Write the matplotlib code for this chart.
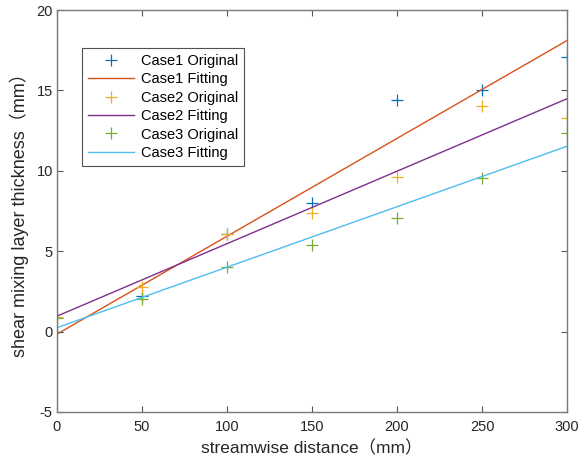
import matplotlib
matplotlib.use('Agg')
import matplotlib.pyplot as plt
import numpy as np

plt.rcParams['font.family'] = ['Liberation Sans', 'Noto Sans CJK SC', 'DejaVu Sans']
plt.rcParams['axes.unicode_minus'] = False

# streamwise positions (mm)
distance = [0, 50, 100, 150, 200, 250, 300]

# measured mixing layer thickness (mm)
case1 = [0.0, 2.2, 6.1, 8.0, 14.4, 15.0, 17.1]
case2 = [0.9, 2.8, 6.1, 7.35, 9.6, 14.0, 13.3]
case3 = [0.85, 2.0, 4.0, 5.4, 7.05, 9.55, 12.35]

cases = ['Case1', 'Case2', 'Case3']
orig_colors = ['#0072BD', '#EDB120', '#77AC30']
fit_colors = ['#D95319', '#7E2F8E', '#4DBEEE']

fig = plt.figure(figsize=(5.79, 4.61), dpi=100)
ax = fig.add_axes([0.0984, 0.1063, 0.8809, 0.872])

x = np.array(distance, dtype=float)
for name, y, oc, fc in zip(cases, [case1, case2, case3], orig_colors, fit_colors):
    ax.plot(x, y, linestyle='none', marker='+', markersize=9, markeredgewidth=0.9,
            color=oc, label=name + ' Original')
    p = np.polyfit(x, y, 1)
    ax.plot(x, np.polyval(p, x), color=fc, linewidth=1.0, label=name + ' Fitting')

ax.set_xlim(0, 300)
ax.set_ylim(-5, 20)
ax.set_xticks([0, 50, 100, 150, 200, 250, 300])
ax.set_yticks([-5, 0, 5, 10, 15, 20])
ax.tick_params(direction='in', top=True, right=True, length=4, width=0.8,
               labelsize=10.5, colors='#555555', labelcolor='#262626')
ax.tick_params(axis='x', pad=6)
ax.tick_params(axis='y', pad=3)
for s in ax.spines.values():
    s.set_color('#7a7a7a')
    s.set_linewidth(1.0)

ax.set_xlabel('streamwise distance（mm）', fontsize=12.5, color='#262626', labelpad=4)
ax.set_ylabel('shear mixing layer thickness（mm）', fontsize=13, color='#262626', labelpad=5)

leg = ax.legend(loc='upper left', bbox_to_anchor=(0.049, 0.905), borderaxespad=0,
                fontsize=10.5, frameon=True, fancybox=False, edgecolor='#262626',
                handlelength=3.2, labelspacing=0.3, borderpad=0.4, handletextpad=0.45)
leg.get_frame().set_linewidth(0.8)

fig.savefig('out.png', dpi=100)
